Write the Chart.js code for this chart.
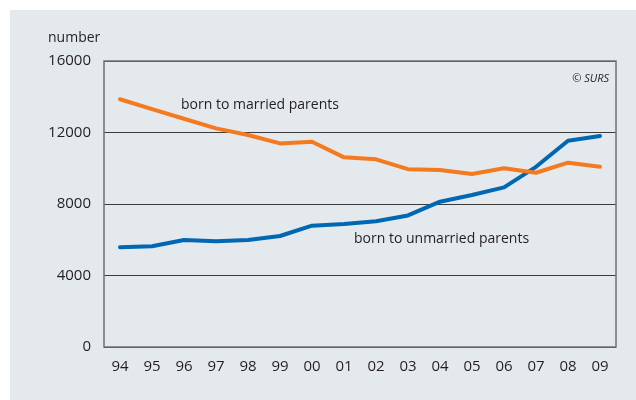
<!DOCTYPE html>
<html lang="en">
<head>
  <meta charset="UTF-8">
  <title>Live births by marital status of parents</title>
  <script src="https://cdn.jsdelivr.net/npm/chart.js"></script>
  <style>
    body {
      margin: 0;
      background: #fff;
    }
    #wrap {
      width: 636px;
      height: 400px;
    }
  </style>
</head>
<body>
  <div id="wrap"><canvas id="grafico" width="636" height="400"></canvas></div>

  <script>
    const years = ['94', '95', '96', '97', '98', '99', '00', '01', '02', '03', '04', '05', '06', '07', '08', '09'];
    const married = [13860, 13310, 12770, 12230, 11860, 11390, 11480, 10610, 10500, 9950, 9900, 9680, 10000, 9750, 10310, 10090];
    const unmarried = [5580, 5640, 5990, 5920, 5990, 6210, 6790, 6880, 7030, 7360, 8130, 8500, 8930, 10080, 11540, 11800];
    const yTicks = [0, 4000, 8000, 12000, 16000];

    const font = "'Open Sans', sans-serif";
    const ink = '#231f20';

    // panel background, plot frame and the free text
    const decor = {
      id: 'decor',
      beforeDraw(chart) {
        const c = chart.ctx;
        c.save();
        c.fillStyle = '#e4e9ed';
        c.fillRect(10, 10, chart.width - 10, chart.height - 10);
        c.restore();
      },
      afterDatasetsDraw(chart) {
        const c = chart.ctx;
        const a = chart.chartArea;
        c.save();
        c.strokeStyle = '#707070';
        c.lineWidth = 1.5;
        c.strokeRect(a.left, a.top, a.right - a.left, a.bottom - a.top);
        c.restore();
      },
      afterDraw(chart) {
        const c = chart.ctx;
        const a = chart.chartArea;
        c.save();
        c.fillStyle = ink;
        c.textBaseline = 'alphabetic';
        c.textAlign = 'left';
        c.font = '14px ' + font;
        c.fillText('number', 48, 42);
        c.font = '14px ' + font;
        c.fillText('born to married parents', 181, 109);
        c.fillText('born to unmarried parents', 354, 243);
        c.font = 'italic 11px ' + font;
        c.textAlign = 'right';
        c.fillText('\u00a9 SURS', a.right - 7, 82);
        c.restore();
      }
    };

    const ctx = document.getElementById('grafico').getContext('2d');
    new Chart(ctx, {
      type: 'line',
      data: {
        labels: years,
        datasets: [{
          label: 'born to married parents',
          data: married,
          borderColor: '#f47a20',
          borderWidth: 4,
          borderCapStyle: 'round',
          borderJoinStyle: 'round',
          pointRadius: 0,
          tension: 0,
          fill: false
        }, {
          label: 'born to unmarried parents',
          data: unmarried,
          borderColor: '#0067b3',
          borderWidth: 4,
          borderCapStyle: 'round',
          borderJoinStyle: 'round',
          pointRadius: 0,
          tension: 0,
          fill: false
        }]
      },
      options: {
        responsive: false,
        animation: false,
        events: [],
        layout: {
          padding: { left: 0, right: 20, top: 61, bottom: 0 }
        },
        plugins: {
          legend: { display: false },
          tooltip: { enabled: false }
        },
        scales: {
          x: {
            offset: true,
            grid: { display: false, drawTicks: false },
            border: { display: false },
            ticks: {
              color: ink,
              font: { family: font, size: 15 },
              padding: 11,
              maxRotation: 0,
              autoSkip: false
            },
            afterFit(scale) { scale.height = 53; }
          },
          y: {
            min: 0,
            max: 16000,
            afterBuildTicks(scale) { scale.ticks = yTicks.map(v => ({ value: v })); },
            grid: { color: '#3c3c3c', lineWidth: 1, drawTicks: false },
            border: { display: false },
            ticks: {
              color: ink,
              font: { family: font, size: 15 },
              padding: 13,
              callback: v => String(v)
            },
            afterFit(scale) { scale.width = 104; }
          }
        }
      },
      plugins: [decor]
    });
  </script>
</body>
</html>
